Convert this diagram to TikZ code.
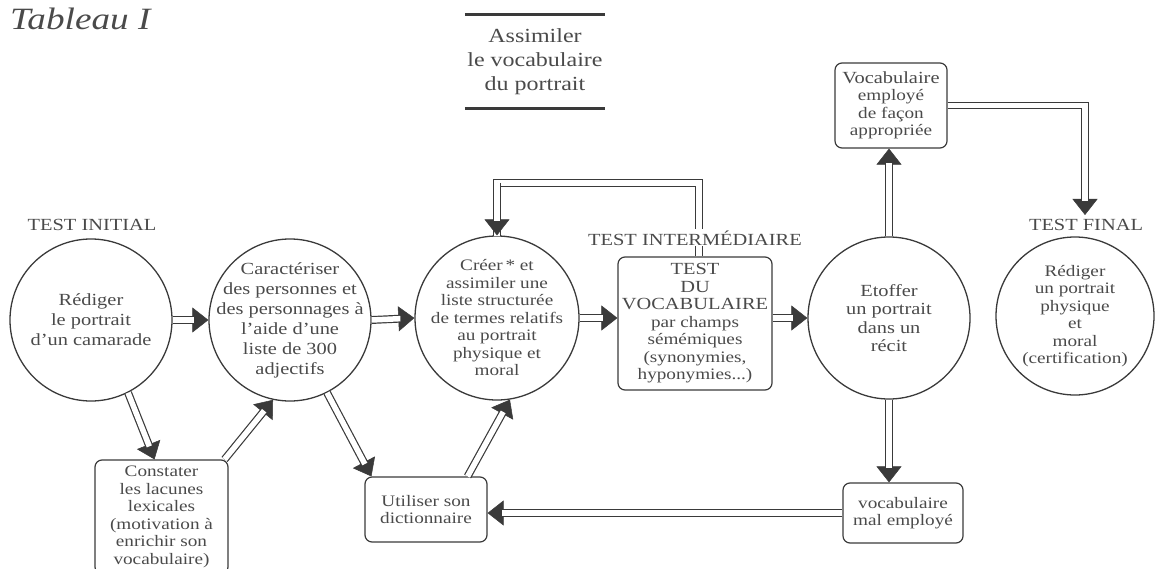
\documentclass[tikz,border=0pt]{standalone}
\usepackage{fontspec}
\setmainfont{Liberation Serif}[FakeStretch=1.2]
\usetikzlibrary{arrows.meta}
\definecolor{ink}{HTML}{3A3A3A}
\definecolor{txt}{HTML}{4A4A4A}
\newcommand\DArrow[1]{\draw[tipline] #1; \draw[dline, shorten >=14pt] #1;}
\begin{document}
\begin{tikzpicture}[x=1pt,y=-1pt,
  circ/.style={draw=ink, line width=1.3pt, circle, inner sep=0pt, minimum size=162pt},
  labA/.style={align=center, text=txt, font=\fontsize{17}{20}\selectfont},
  labB/.style={align=center, text=txt, font=\fontsize{16}{17.5}\selectfont},
  labC/.style={align=center, text=txt, font=\fontsize{17}{18.3}\selectfont},
  rbox/.style={draw=ink, line width=1.2pt, rounded corners=7pt, inner sep=0pt, align=center, text=txt, font=\fontsize{16}{17.5}\selectfont},
  caption/.style={anchor=base, text=txt, font=\fontsize{17}{20}\selectfont},
  tipline/.style={draw=ink, line width=0.5pt, -{Triangle[width=25pt,length=16pt]}},
  dline/.style={draw=ink, double=white, double distance=5.5pt, line width=1.2pt}
]
\useasboundingbox (0,0) rectangle (1155,569);
\clip (0,0) rectangle (1155,569);

% title
\node[anchor=base west, text=txt, font=\fontsize{31}{34}\selectfont\itshape, inner sep=0pt] (title) at (10,30) {Tableau I};

% Assimiler
\node[align=center, text=txt, font=\fontsize{20}{24}\selectfont, minimum width=140pt, minimum height=93pt, inner sep=0pt] (assim) at (535,61.5) {Assimiler\\le vocabulaire\\du portrait};
\draw[ink, line width=3pt] (assim.north west) -- (assim.north east);
\draw[ink, line width=3pt] (assim.south west) -- (assim.south east);

% captions
\node[caption] (tinit) at (92,231) {TEST INITIAL};
\node[caption] (tfinal) at (1086,230) {TEST FINAL};

% circles
\node[circ, label={[labA]center:{Rédiger\\le portrait\\d’un camarade}}] (c1) at (91,320) {};
\node[circ, label={[labA]center:{Caractériser\\des personnes et\\des personnages à\\l’aide d’une\\liste de 300\\adjectifs}}] (c2) at (290,320) {};
\node[circ, minimum size=164pt, label={[labB]center:{Créer\,* et\\assimiler une\\liste structurée\\de termes relatifs\\au portrait\\physique et\\moral}}] (c3) at (497,318) {};
\node[circ, label={[labC]center:{Etoffer\\un portrait\\dans un\\récit}}] (c4) at (889,318) {};
\node[circ, minimum size=158pt, label={[labB]center:{Rédiger\\un portrait\\physique\\et\\moral\\(certification)}}] (c5) at (1075,316) {};

% boxes
\node[rbox, minimum width=154pt, minimum height=133pt] (test) at (695,323.5)
  {{\fontsize{17}{17.5}\selectfont TEST}\\{\fontsize{17}{17.5}\selectfont DU}\\{\fontsize{17}{17.5}\selectfont VOCABULAIRE}\\par champs\\sémémiques\\(synonymies,\\hyponymies...)};
\node[rbox, minimum width=112pt, minimum height=85pt] (voc) at (891,105.5)
  {{\fontsize{17}{17.5}\selectfont Vocabulaire}\\employé\\de façon\\appropriée};
\node[rbox, minimum width=133pt, minimum height=114pt] (const) at (161.5,517)
  {Constater\\les lacunes\\lexicales\\(motivation à\\enrichir son\\vocabulaire)};
\node[rbox, minimum width=122pt, minimum height=65pt] (util) at (426,509.5)
  {Utiliser son\\dictionnaire};
\node[rbox, minimum width=120pt, minimum height=60pt] (mal) at (903,513)
  {vocabulaire\\mal employé};

% feedback from the test back to c3
\coordinate (fb) at (699,183);
\coordinate (fin) at (1085,215);
\draw[dline] ([xshift=4pt]test.north) -- ([xshift=4pt]test.north |- fb) -| ([yshift=-1pt]c3.north);
\DArrow{(c3.north |- fb) -- (c3.north)}
\node[caption, fill=white, inner sep=1pt] (tinter) at (695,245) {TEST INTERMÉDIAIRE};

% main row arrows
\DArrow{(c1.east) -- (c2.west)}
\DArrow{(c2.east) -- (c3.west)}
\DArrow{(c3.east) -- (c3.east -| test.west)}
\DArrow{(c4.west -| test.east) -- (c4.west)}

% lower arrows
\DArrow{(c1.-63) -- ([xshift=-7pt]const.north)}
\DArrow{([xshift=-4pt]const.north east) -- (c2.-102)}
\DArrow{(c2.-63) -- ([xshift=7pt]util.north west)}
\DArrow{([xshift=-20pt]util.north east) -- (c3.-81)}
\DArrow{(c4.south) -- (c4.south |- mal.north)}
\DArrow{(mal.west) -- (mal.west -| util.east)}

% upper right
\DArrow{(c4.north) -- (c4.north |- voc.south)}
\DArrow{(voc.east) -| (fin)}
\end{tikzpicture}
\end{document}
